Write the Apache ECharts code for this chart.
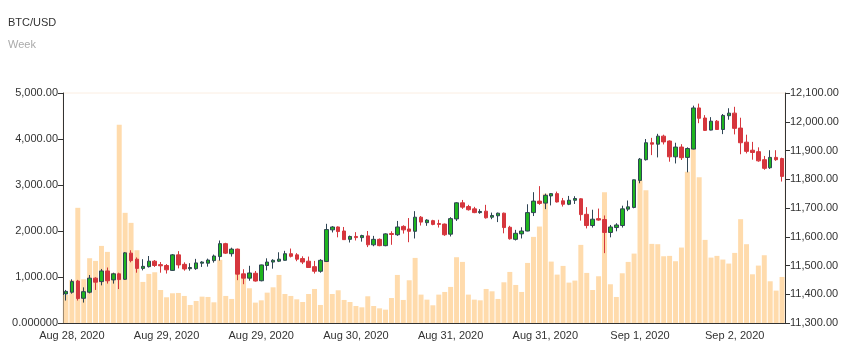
<!DOCTYPE html>
<html>
<head>
<meta charset="utf-8">
<script src="https://cdn.jsdelivr.net/npm/echarts@6/dist/echarts.min.js"></script>
<style>
html,body{margin:0;padding:0;background:#fff;}
#chart{width:851px;height:356px;}
</style>
</head>
<body>
<div id="chart"></div>
<script>
// Hourly candles, first one at Aug 28, 2020 07:00 (UTC)
var opens = [11401,11407,11446,11386,11407,11456,11444,11481,11450,11471,11452,11543,11522,11490,11496,11515,11503,11500,11483,11537,11504,11489,11489,11508,11508,
11517,11531,11576,11541,11557,11471,11456,11473,11447,11500,11512,11515,11518,11541,11537,11524,11515,11496,11480,11514,11624,11634,11620,11591,
11601,11597,11603,11572,11591,11569,11611,11607,11636,11627,11619,11668,11649,11656,11646,11644,11609,11662,11718,11705,11697,11684,11689,11668,
11673,11682,11633,11591,11610,11620,11684,11724,11717,11742,11750,11725,11713,11727,11732,11678,11639,11663,11660,11615,11632,11639,11696,11702,11796,
11868,11927,11922,11950,11933,11878,11912,11876,11905,12048,12013,11971,12002,11973,12021,12030,11978,11929,11901,11896,11868,11840,11876,11872];
var closes = [11410,11444,11385,11409,11456,11442,11481,11447,11471,11451,11544,11517,11490,11497,11515,11500,11499,11485,11537,11502,11488,11493,11509,11512,11519,
11533,11576,11543,11557,11470,11456,11474,11446,11502,11512,11518,11522,11541,11532,11522,11512,11493,11480,11518,11625,11634,11618,11590,11601,
11597,11604,11572,11591,11569,11610,11608,11634,11624,11619,11668,11651,11658,11643,11643,11607,11663,11718,11703,11694,11684,11688,11666,11674,
11682,11632,11593,11612,11620,11684,11724,11716,11744,11750,11721,11713,11727,11733,11677,11639,11661,11658,11615,11634,11641,11697,11704,11798,11870,
11927,11922,11950,11930,11878,11912,11875,11907,12048,12012,11970,12002,11973,12022,12030,11977,11927,11897,11893,11864,11838,11876,11868,11810];
var lows = [11378,11402,11378,11371,11403,11415,11431,11437,11437,11418,11450,11511,11475,11483,11493,11495,11475,11472,11481,11490,11482,11482,11485,11495,11496,
11510,11517,11540,11531,11449,11435,11447,11444,11445,11483,11489,11512,11517,11528,11515,11505,11493,11472,11475,11512,11615,11598,11589,11580,
11587,11583,11564,11567,11567,11567,11572,11603,11611,11581,11594,11639,11638,11640,11632,11603,11601,11655,11697,11691,11682,11680,11663,11661,
11651,11612,11590,11587,11594,11619,11672,11711,11696,11709,11719,11705,11710,11714,11656,11629,11632,11656,11543,11598,11619,11632,11689,11699,11786,
11865,11884,11876,11921,11861,11855,11867,11824,11904,11995,11968,11970,11972,11957,12007,11956,11887,11890,11868,11861,11833,11836,11864,11792];
var highs = [11415,11452,11450,11424,11467,11459,11488,11493,11475,11475,11547,11553,11528,11522,11533,11519,11512,11505,11540,11550,11511,11508,11523,11515,11524,
11538,11587,11579,11562,11559,11487,11499,11481,11503,11525,11522,11546,11551,11559,11543,11532,11531,11516,11522,11645,11637,11636,11634,11604,
11616,11607,11620,11603,11594,11612,11619,11655,11640,11665,11689,11672,11661,11659,11659,11646,11668,11720,11728,11711,11704,11696,11711,11684,
11684,11684,11638,11624,11633,11713,11755,11776,11750,11752,11757,11735,11742,11741,11734,11703,11694,11698,11674,11641,11647,11708,11726,11799,11874,
11940,11944,11958,11955,11935,11927,11922,11911,12056,12063,12023,12016,12006,12027,12047,12052,12014,11955,11930,11911,11881,11901,11901,11875];
var volumes = [610,936,2504,951,1408,1350,1676,1546,1089,4311,2395,2177,1582,893,1067,1103,718,559,646,653,588,392,479,573,566,
450,1372,588,523,1604,987,755,443,493,660,776,1045,631,588,515,457,631,740,392,2032,631,711,501,457,
370,341,581,370,319,290,544,1045,501,929,1415,617,508,385,617,675,784,1430,1328,617,508,493,740,689,
523,885,1110,827,675,1306,1872,2097,2808,1335,1052,1241,878,922,1698,1089,718,1016,2845,842,566,1081,1328,1509,3099,
2888,1720,1713,1451,1459,1343,1640,3287,4028,3171,1807,1422,1459,1379,1292,1524,2257,1713,1059,1248,1473,907,704,1001];

var leftTicks = [0, 1000, 2000, 3000, 4000, 5000];
var rightMin = 11300, rightMax = 12100, rightStep = 100;

// categories: one per hour
var categories = [];
(function () {
  var t = Date.UTC(2020, 7, 28, 7, 0);
  var mon = ['Jan','Feb','Mar','Apr','May','Jun','Jul','Aug','Sep','Oct','Nov','Dec'];
  for (var i = 0; i < opens.length; i++) {
    var d = new Date(t + i * 3600000);
    categories.push(mon[d.getUTCMonth()] + ' ' + d.getUTCDate() + ', ' + d.getUTCFullYear() + ' ' +
      String(d.getUTCHours()).padStart(2, '0') + ':00');
  }
})();

var candleData = opens.map(function (o, i) { return [o, closes[i], lows[i], highs[i]]; });

function withCommas(v, dec) {
  var s = v.toFixed(dec);
  var parts = s.split('.');
  parts[0] = parts[0].replace(/\B(?=(\d{3})+(?!\d))/g, ',');
  return parts.join('.');
}

var chart = echarts.init(document.getElementById('chart'), null, {renderer: 'canvas'});
var font = 'Liberation Sans, Arial, sans-serif';
chart.setOption({
  animation: false,
  textStyle: {fontFamily: font},
  title: {
    text: 'BTC/USD',
    subtext: 'Week',
    left: 3,
    top: 12,
    itemGap: 11,
    textStyle: {fontSize: 11, fontWeight: 'normal', color: '#333', fontFamily: font},
    subtextStyle: {fontSize: 11, color: '#aaa', fontFamily: font}
  },
  grid: {
    left: 63, right: 66, top: 93, bottom: 33,
    show: true, borderColor: '#fbeee2', borderWidth: 1, backgroundColor: 'transparent'
  },
  xAxis: {
    type: 'category',
    data: categories,
    boundaryGap: true,
    axisLine: {lineStyle: {color: '#333', width: 1}},
    axisTick: {
      alignWithLabel: true,
      length: 5,
      lineStyle: {color: '#333'},
      interval: function (idx) { return idx % 16 === 9; }
    },
    axisLabel: {
      interval: function (idx) { return idx % 16 === 1; },
      formatter: function (v) { return v.slice(0, v.lastIndexOf(' ')); },
      color: '#333', fontSize: 11, margin: 7, fontFamily: font
    },
    splitLine: {show: false}
  },
  yAxis: [
    {
      type: 'value', position: 'left',
      min: leftTicks[0], max: leftTicks[leftTicks.length - 1], interval: 1000,
      axisLine: {show: true, lineStyle: {color: '#333'}},
      axisTick: {show: true, length: 5, lineStyle: {color: '#333'}},
      axisLabel: {
        color: '#333', fontSize: 11, margin: 5, fontFamily: font,
        formatter: function (v) { return v === 0 ? '0.000000' : withCommas(v, 2); }
      },
      splitLine: {show: false}
    },
    {
      type: 'value', position: 'right',
      min: rightMin, max: rightMax, interval: rightStep,
      axisLine: {show: true, lineStyle: {color: '#333'}},
      axisTick: {show: true, length: 5, lineStyle: {color: '#333'}},
      axisLabel: {
        color: '#333', fontSize: 11, margin: 5, fontFamily: font,
        formatter: function (v) { return withCommas(v, 2); }
      },
      splitLine: {show: false}
    }
  ],
  series: [
    {
      type: 'bar',
      yAxisIndex: 0,
      data: volumes,
      barCategoryGap: '16%',
      itemStyle: {color: '#ffdbac'},
      z: 1
    },
    {
      type: 'candlestick',
      yAxisIndex: 1,
      data: candleData,
      barWidth: 4,
      itemStyle: {
        color: '#1fb51f',
        color0: '#d6363d',
        borderColor: '#2f4554',
        borderColor0: '#d6363d',
        borderWidth: 1
      },
      z: 3
    }
  ]
});
</script>
</body>
</html>
